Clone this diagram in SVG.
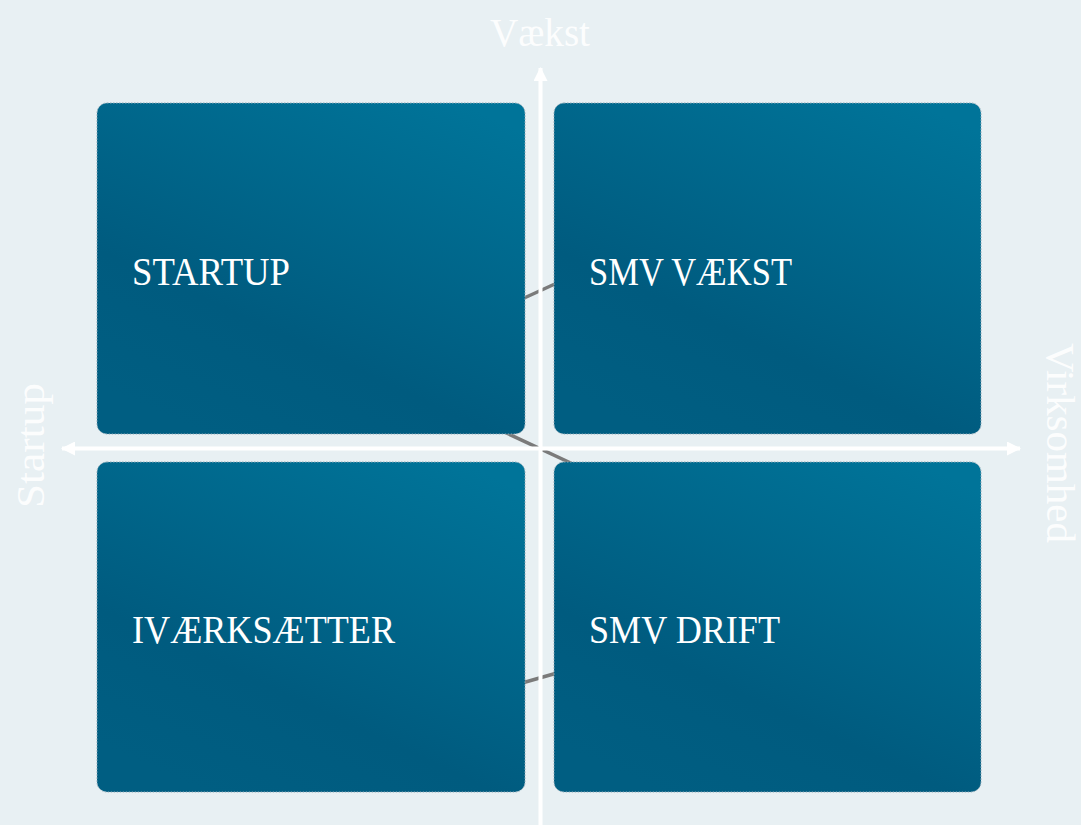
<svg xmlns="http://www.w3.org/2000/svg" width="1081" height="825" viewBox="0 0 1081 825">
<style>
.box{stroke:#8fa9b6;stroke-width:1;stroke-dasharray:1.5 1.5}
.lbl{font-family:"Liberation Serif","DejaVu Serif",serif;font-size:39px;fill:#ffffff}
.ax{font-family:"Liberation Serif","DejaVu Serif",serif;font-size:39px;fill:#ffffff;fill-opacity:0.9}
.axis{stroke:#ffffff;stroke-width:4;fill:none}
.link{stroke:#7a7a7a;stroke-width:3.5;fill:none}
</style>
<defs>
<linearGradient id="g" x1="0.85" y1="0" x2="0.25" y2="1">
<stop offset="0" stop-color="#007499"/>
<stop offset="0.7" stop-color="#005b7f"/>
<stop offset="1" stop-color="#005e82"/>
</linearGradient>
<marker id="ah" viewBox="0 0 14 14" refX="13" refY="7" markerWidth="14" markerHeight="14" markerUnits="userSpaceOnUse" orient="auto">
<path d="M0,0 L14,7 L0,14 Z" fill="#ffffff"/>
</marker>
</defs>
<rect width="1081" height="825" fill="#e8f0f3"/>
<g id="connectors">
<line class="link" x1="522" y1="299" x2="557" y2="283"/>
<line class="link" x1="500" y1="430" x2="575" y2="465"/>
<line class="link" x1="522" y1="683" x2="557" y2="673"/>
</g>
<g id="startup">
<rect class="box" x="97" y="103" width="428" height="331" rx="10" fill="url(#g)"/>
<text class="lbl" x="132" y="285" textLength="158" lengthAdjust="spacingAndGlyphs">STARTUP</text>
</g>
<g id="smv-vaekst">
<rect class="box" x="554" y="103" width="427" height="331" rx="10" fill="url(#g)"/>
<text class="lbl" x="589" y="285" textLength="203" lengthAdjust="spacingAndGlyphs">SMV VÆKST</text>
</g>
<g id="ivaerksaetter">
<rect class="box" x="97" y="462" width="428" height="330" rx="10" fill="url(#g)"/>
<text class="lbl" x="132" y="643" textLength="263" lengthAdjust="spacingAndGlyphs">IVÆRKSÆTTER</text>
</g>
<g id="smv-drift">
<rect class="box" x="554" y="462" width="427" height="330" rx="10" fill="url(#g)"/>
<text class="lbl" x="589" y="643" textLength="191" lengthAdjust="spacingAndGlyphs">SMV DRIFT</text>
</g>
<g id="axes">
<line class="axis" x1="540.5" y1="825" x2="540.5" y2="68" marker-end="url(#ah)"/>
<line class="axis" x1="541" y1="448.5" x2="62" y2="448.5" marker-end="url(#ah)"/>
<line class="axis" x1="541" y1="448.5" x2="1020" y2="448.5" marker-end="url(#ah)"/>
<text class="ax" x="490" y="46" textLength="100" lengthAdjust="spacingAndGlyphs">Vækst</text>
<text class="ax" transform="translate(44,508) rotate(-90)" textLength="125" lengthAdjust="spacingAndGlyphs">Startup</text>
<text class="ax" transform="translate(1047,343) rotate(90)" textLength="200" lengthAdjust="spacingAndGlyphs">Virksomhed</text>
</g>
</svg>
